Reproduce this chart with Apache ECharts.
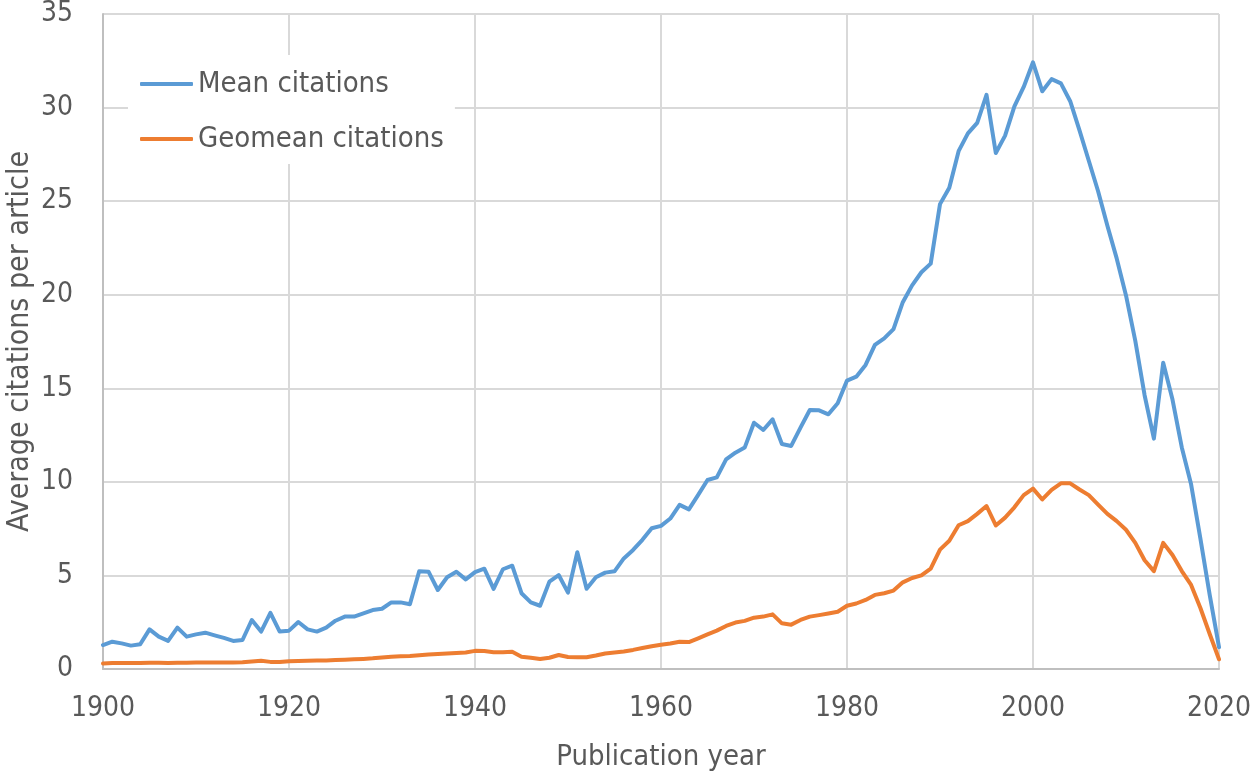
<!DOCTYPE html>
<html>
<head>
<meta charset="utf-8">
<script src="https://cdn.jsdelivr.net/npm/echarts@6/dist/echarts.min.js"></script>
<style>
html,body{margin:0;padding:0;background:#fff;}
#chart{width:1253px;height:777px;}
</style>
</head>
<body>
<div id="chart"></div>
<script>
const years = [
1900,1901,1902,1903,1904,1905,1906,1907,1908,1909,
1910,1911,1912,1913,1914,1915,1916,1917,1918,1919,
1920,1921,1922,1923,1924,1925,1926,1927,1928,1929,
1930,1931,1932,1933,1934,1935,1936,1937,1938,1939,
1940,1941,1942,1943,1944,1945,1946,1947,1948,1949,
1950,1951,1952,1953,1954,1955,1956,1957,1958,1959,
1960,1961,1962,1963,1964,1965,1966,1967,1968,1969,
1970,1971,1972,1973,1974,1975,1976,1977,1978,1979,
1980,1981,1982,1983,1984,1985,1986,1987,1988,1989,
1990,1991,1992,1993,1994,1995,1996,1997,1998,1999,
2000,2001,2002,2003,2004,2005,2006,2007,2008,2009,
2010,2011,2012,2013,2014,2015,2016,2017,2018,2019,
2020];

const meanCitations = [
1.28,1.46,1.37,1.25,1.32,2.12,1.73,1.50,2.21,1.73,
1.85,1.94,1.80,1.66,1.50,1.55,2.62,2.00,3.00,2.00,
2.05,2.51,2.12,2.00,2.21,2.58,2.80,2.80,2.97,3.15,
3.22,3.56,3.56,3.46,5.22,5.20,4.22,4.90,5.20,4.79,
5.18,5.36,4.28,5.33,5.52,4.05,3.56,3.38,4.67,5.02,
4.08,6.24,4.29,4.90,5.15,5.22,5.91,6.36,6.90,7.52,
7.65,8.04,8.77,8.53,9.30,10.10,10.24,11.20,11.56,11.83,
13.16,12.77,13.34,12.02,11.92,12.90,13.84,13.82,13.61,14.20,
15.41,15.62,16.25,17.32,17.67,18.16,19.60,20.50,21.20,21.66,
24.84,25.72,27.67,28.62,29.18,30.68,27.57,28.50,30.06,31.10,
32.42,30.87,31.52,31.29,30.34,28.78,27.16,25.53,23.68,21.94,
19.96,17.53,14.63,12.31,16.37,14.40,11.84,9.87,6.97,3.96,
1.17];

const geomeanCitations = [
0.30,0.32,0.32,0.32,0.32,0.34,0.33,0.32,0.33,0.34,
0.35,0.35,0.35,0.35,0.35,0.36,0.40,0.44,0.38,0.38,
0.42,0.43,0.44,0.45,0.46,0.48,0.50,0.52,0.54,0.57,
0.62,0.66,0.68,0.70,0.74,0.78,0.80,0.83,0.86,0.88,
0.97,0.96,0.90,0.89,0.92,0.66,0.60,0.53,0.60,0.75,
0.64,0.63,0.63,0.72,0.83,0.88,0.94,1.02,1.12,1.22,
1.30,1.36,1.46,1.44,1.64,1.85,2.05,2.30,2.48,2.57,
2.74,2.80,2.92,2.44,2.37,2.62,2.80,2.88,2.97,3.06,
3.38,3.50,3.69,3.96,4.05,4.19,4.63,4.86,5.00,5.36,
6.38,6.85,7.68,7.90,8.29,8.71,7.67,8.09,8.64,9.29,
9.64,9.06,9.57,9.92,9.92,9.59,9.29,8.78,8.29,7.90,
7.44,6.74,5.81,5.23,6.74,6.09,5.23,4.49,3.26,1.87,
0.52];

const seriesNames = ['Mean citations', 'Geomean citations'];
const xTitle = 'Publication year';
const yTitle = 'Average citations per article';

const FONT = "'DejaVu Sans Condensed', 'DejaVu Sans', sans-serif";
const TXT = '#595959';
const BLUE = '#5B9BD5';
const ORANGE = '#ED7D31';

const pairs = (vals) => years.map((y, i) => [y, vals[i]]);

const chart = echarts.init(document.getElementById('chart'), null, {renderer: 'canvas'});
chart.setOption({
  animation: false,
  backgroundColor: '#fff',
  textStyle: {fontFamily: FONT, color: TXT},
  grid: {left: 103, right: 34, top: 14, bottom: 108, containLabel: false, outerBoundsMode: 'none'},
  legend: {
    show: true,
    orient: 'vertical',
    left: 128,
    top: 55,
    padding: [13, 11, 9, 12],
    backgroundColor: '#ffffff',
    icon: 'roundRect',
    itemWidth: 53,
    itemHeight: 4,
    itemGap: 23,
    textStyle: {fontFamily: FONT, fontSize: 29, color: TXT, lineHeight: 32},
    data: seriesNames
  },
  xAxis: {
    type: 'value',
    min: 1900, max: 2020, interval: 20,
    name: xTitle,
    nameLocation: 'middle',
    nameGap: 74,
    nameMoveOverlap: false,
    nameTextStyle: {fontFamily: FONT, fontSize: 29, color: TXT},
    axisLine: {show: true, lineStyle: {color: '#bfbfbf', width: 2}},
    axisTick: {show: false},
    axisLabel: {fontFamily: FONT, fontSize: 28, color: TXT, margin: 26, formatter: (v) => String(v)},
    splitLine: {show: true, lineStyle: {color: '#d9d9d9', width: 2}}
  },
  yAxis: {
    type: 'value',
    min: 0, max: 35, interval: 5,
    name: yTitle,
    nameLocation: 'middle',
    nameGap: 68,
    nameMoveOverlap: false,
    nameTextStyle: {fontFamily: FONT, fontSize: 30, color: TXT},
    axisLine: {show: true, lineStyle: {color: '#bfbfbf', width: 2}},
    axisTick: {show: false},
    axisLabel: {fontFamily: FONT, fontSize: 28, color: TXT, margin: 30},
    splitLine: {show: true, lineStyle: {color: '#d9d9d9', width: 2}}
  },
  series: [
    {
      name: seriesNames[0], type: 'line', data: pairs(meanCitations),
      symbol: 'none', z: 3,
      lineStyle: {color: BLUE, width: 4, cap: 'round', join: 'round'},
      itemStyle: {color: BLUE}
    },
    {
      name: seriesNames[1], type: 'line', data: pairs(geomeanCitations),
      symbol: 'none', z: 2,
      lineStyle: {color: ORANGE, width: 4, cap: 'round', join: 'round'},
      itemStyle: {color: ORANGE}
    }
  ]
});
</script>
</body>
</html>
